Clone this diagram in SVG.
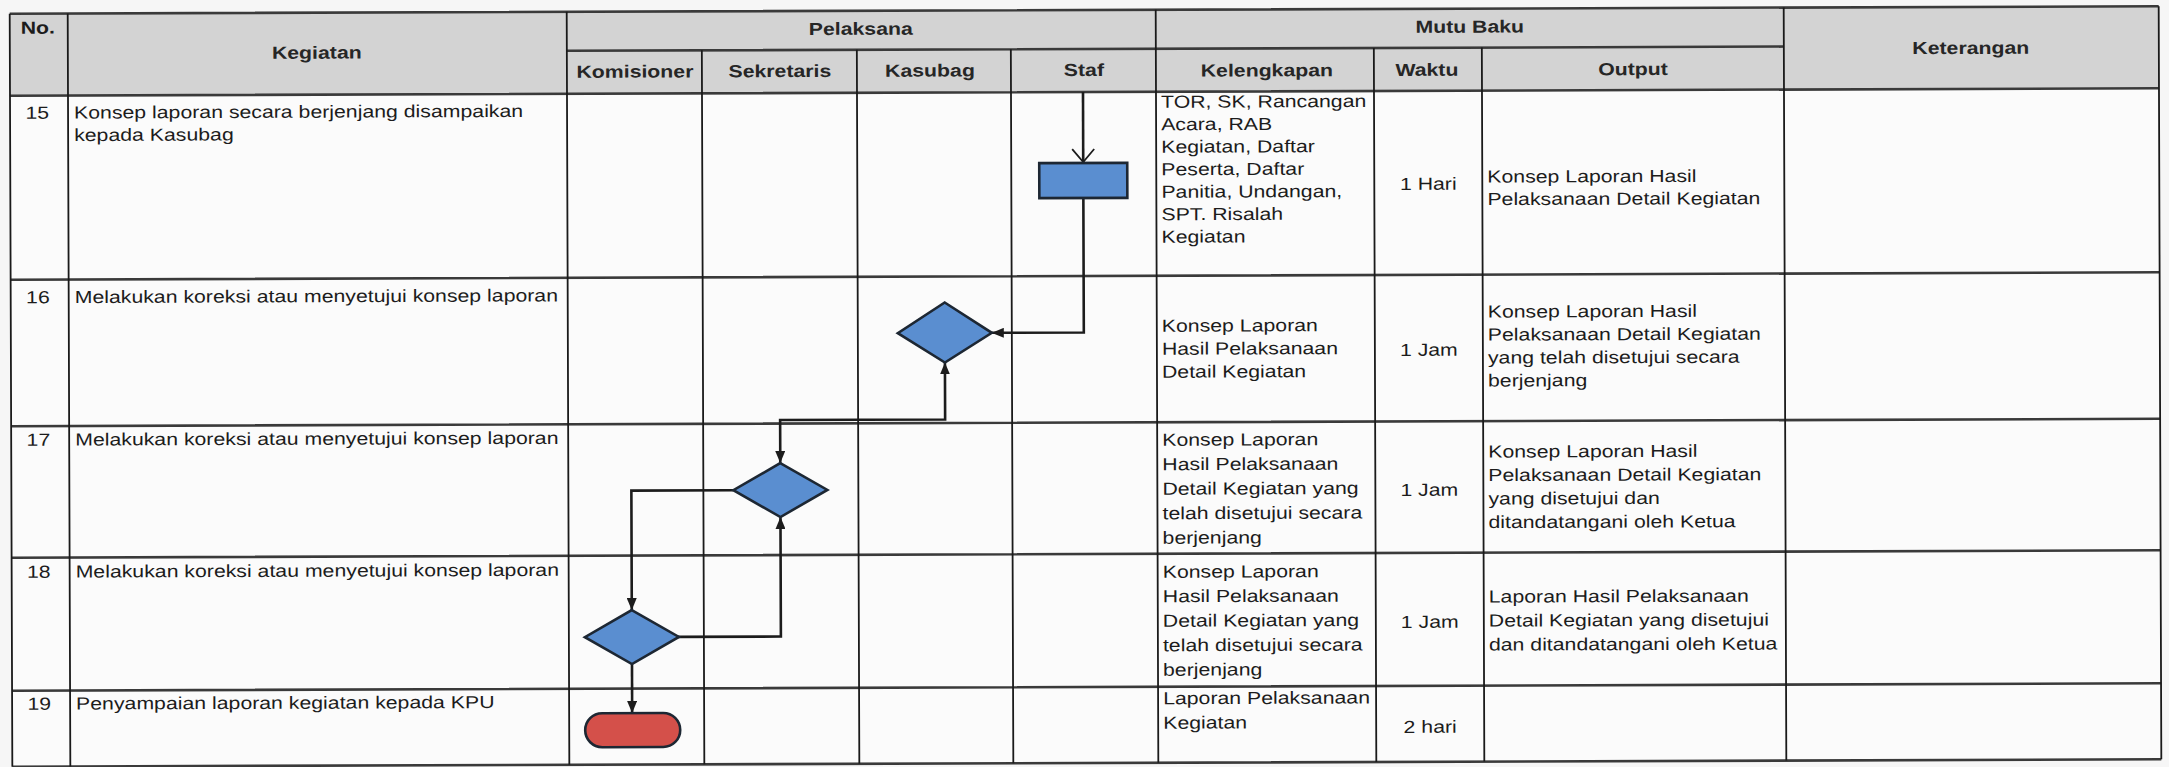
<svg xmlns="http://www.w3.org/2000/svg" width="2169" height="767" viewBox="0 0 2169 767">
<style>
.bg{fill:#f6f6f6}
.hdr{fill:#d3d3d3}
.body{fill:#fbfbfb}
.hl{stroke:#3a3a3a;stroke-width:2.6;fill:none}
.vl{stroke:#1a1a1a;stroke-width:1.8;fill:none}
.t{font-family:"Liberation Sans",Arial,sans-serif;font-size:17.5px;fill:#1c1c1c}
.b{font-weight:bold;text-anchor:middle;fill:#262626}
.c{text-anchor:middle}
.e{text-anchor:end}
.conn{fill:none;stroke:#1c1c1c;stroke-width:2.6}
.blue{fill:#5a8ed0;stroke:#1d2733;stroke-width:2.6}
.red{fill:#d4504a;stroke:#1d2733;stroke-width:2.6}
</style>
<defs>
<marker id="tri" viewBox="0 0 12 10" refX="12" refY="5" markerWidth="12" markerHeight="10" markerUnits="userSpaceOnUse" orient="auto-start-reverse"><path d="M0,0 L12,5 L0,10 z" fill="#1c1c1c"/></marker>
<marker id="vee" viewBox="0 0 15 24" refX="14" refY="12" markerWidth="15" markerHeight="24" markerUnits="userSpaceOnUse" orient="auto"><path d="M1,1 L14,12 L1,23" fill="none" stroke="#1c1c1c" stroke-width="1.8"/></marker>
</defs>
<rect class="bg" x="0" y="0" width="2169" height="767"/>
<g transform="rotate(-0.2 1085 383)">
<g id="table">
<rect class="hdr" x="11" y="10" width="2149" height="82"/>
<rect class="body" x="11" y="92" width="2149" height="671"/>
<path class="hl" d="M11,10H2160 M568,49H1785 M11,92H2160 M11,276H2160 M11,422.5H2160 M11,554H2160 M11,687H2160 M11,763H2160"/>
<path class="vl" d="M11,10V763 M69,10V763 M568,10V763 M1157,10V763 M1785,10V763 M2160,10V763 M703,49V763 M858,49V763 M1012,49V763 M1375,49V763 M1483,49V763"/>
</g>
<g id="labels" transform="scale(1.215 1)">
<text class="t" x="18.1" y="30" font-weight="bold" fill="#262626">No.</text>
<text class="t b" x="261.7" y="56">Kegiatan</text>
<text class="t b" x="709.5" y="34">Pelaksana</text>
<text class="t b" x="523.5" y="76">Komisioner</text>
<text class="t b" x="642.8" y="76">Sekretaris</text>
<text class="t b" x="766.3" y="76">Kasubag</text>
<text class="t b" x="893" y="76">Staf</text>
<text class="t b" x="1210.7" y="34">Mutu Baku</text>
<text class="t b" x="1043.6" y="77">Kelengkapan</text>
<text class="t b" x="1175.3" y="77">Waktu</text>
<text class="t b" x="1344.9" y="77">Output</text>
<text class="t b" x="1623" y="57">Keterangan</text>

<text class="t e" x="41.15" y="115">15</text>
<text class="t" x="61.73" y="115">Konsep laporan secara berjenjang disampaikan</text>
<text class="t" x="61.73" y="137.5">kepada Kasubag</text>
<text class="t" x="956.4" y="108">TOR, SK, Rancangan</text>
<text class="t" x="956.4" y="130.5">Acara, RAB</text>
<text class="t" x="956.4" y="153">Kegiatan, Daftar</text>
<text class="t" x="956.4" y="175.5">Peserta, Daftar</text>
<text class="t" x="956.4" y="198">Panitia, Undangan,</text>
<text class="t" x="956.4" y="220.5">SPT. Risalah</text>
<text class="t" x="956.4" y="243">Kegiatan</text>
<text class="t c" x="1176.1" y="191">1 Hari</text>
<text class="t" x="1224.7" y="184">Konsep Laporan Hasil</text>
<text class="t" x="1224.7" y="206.5">Pelaksanaan Detail Kegiatan</text>

<text class="t e" x="41.15" y="299.5">16</text>
<text class="t" x="61.73" y="299.5">Melakukan koreksi atau menyetujui konsep laporan</text>
<text class="t" x="956.4" y="332">Konsep Laporan</text>
<text class="t" x="956.4" y="355">Hasil Pelaksanaan</text>
<text class="t" x="956.4" y="378">Detail Kegiatan</text>
<text class="t c" x="1176.1" y="357">1 Jam</text>
<text class="t" x="1224.7" y="319">Konsep Laporan Hasil</text>
<text class="t" x="1224.7" y="342">Pelaksanaan Detail Kegiatan</text>
<text class="t" x="1224.7" y="365">yang telah disetujui secara</text>
<text class="t" x="1224.7" y="388">berjenjang</text>

<text class="t e" x="41.15" y="442">17</text>
<text class="t" x="61.73" y="442">Melakukan koreksi atau menyetujui konsep laporan</text>
<text class="t" x="956.4" y="446">Konsep Laporan</text>
<text class="t" x="956.4" y="470.5">Hasil Pelaksanaan</text>
<text class="t" x="956.4" y="495">Detail Kegiatan yang</text>
<text class="t" x="956.4" y="519.5">telah disetujui secara</text>
<text class="t" x="956.4" y="544">berjenjang</text>
<text class="t c" x="1176.1" y="497">1 Jam</text>
<text class="t" x="1224.7" y="459">Konsep Laporan Hasil</text>
<text class="t" x="1224.7" y="482.5">Pelaksanaan Detail Kegiatan</text>
<text class="t" x="1224.7" y="506">yang disetujui dan</text>
<text class="t" x="1224.7" y="529.5">ditandatangani oleh Ketua</text>

<text class="t e" x="41.15" y="574">18</text>
<text class="t" x="61.73" y="574">Melakukan koreksi atau menyetujui konsep laporan</text>
<text class="t" x="956.4" y="578">Konsep Laporan</text>
<text class="t" x="956.4" y="602.5">Hasil Pelaksanaan</text>
<text class="t" x="956.4" y="627">Detail Kegiatan yang</text>
<text class="t" x="956.4" y="651.5">telah disetujui secara</text>
<text class="t" x="956.4" y="676">berjenjang</text>
<text class="t c" x="1176.1" y="629">1 Jam</text>
<text class="t" x="1224.7" y="604">Laporan Hasil Pelaksanaan</text>
<text class="t" x="1224.7" y="628">Detail Kegiatan yang disetujui</text>
<text class="t" x="1224.7" y="652">dan ditandatangani oleh Ketua</text>

<text class="t e" x="41.15" y="706">19</text>
<text class="t" x="61.73" y="706">Penyampaian laporan kegiatan kepada KPU</text>
<text class="t" x="956.4" y="704.5">Laporan Pelaksanaan</text>
<text class="t" x="956.4" y="729">Kegiatan</text>
<text class="t c" x="1176.1" y="734">2 hari</text>
</g>
<g id="connectors">
<path class="conn" d="M1084,92 V162" marker-end="url(#vee)"/>
<path class="conn" d="M1084,198 V332.5 H992" marker-end="url(#tri)"/>
<path class="conn" d="M945,362 V419 H780 V462" marker-start="url(#tri)" marker-end="url(#tri)"/>
<path class="conn" d="M733,489 H631 V608.5" marker-end="url(#tri)"/>
<path class="conn" d="M677,635.5 H780 V516" marker-end="url(#tri)"/>
<path class="conn" d="M631,662.5 V711.5" marker-end="url(#tri)"/>
</g>
<g id="n15-staf-proses"><rect class="blue" x="1040" y="163" width="88" height="35"/></g>
<g id="n16-kasubag-keputusan"><polygon class="blue" points="945,302 992,332.5 945,362 898,332.5"/></g>
<g id="n17-sekretaris-keputusan"><polygon class="blue" points="780,462 827,489 780,516 733,489"/></g>
<g id="n18-komisioner-keputusan"><polygon class="blue" points="631,608.5 678,635.5 631,662.5 584,635.5"/></g>
<g id="n19-komisioner-selesai"><rect class="red" x="584" y="711.5" width="95" height="34" rx="17" ry="17"/></g>
</g>
</svg>
